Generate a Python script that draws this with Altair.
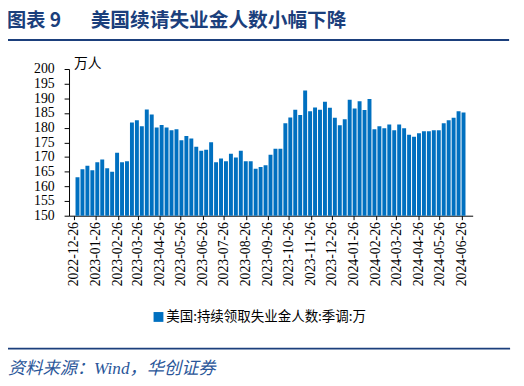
import altair as alt
import pandas as pd

# ---- data ----
start_week = "2022-12-31"
n_weeks = 79
claims = [
    163.1, 165.8, 167.0, 165.5, 168.2, 169.2, 166.2, 165.0, 171.5, 168.2,
    168.6, 181.8, 182.5, 180.5, 186.2, 184.5, 180.1, 180.9, 180.1, 179.1,
    179.5, 175.7, 177.2, 176.3, 173.5, 172.1, 172.5, 175.0, 168.2, 169.5,
    168.6, 171.1, 169.8, 172.1, 168.6, 168.6, 166.0, 166.6, 167.2, 170.8,
    172.8, 172.8, 181.5, 183.5, 186.1, 184.3, 192.7, 185.6, 186.9, 186.1,
    188.8, 186.8, 183.4, 180.8, 182.9, 189.5, 186.5, 189.0, 186.0, 189.8,
    179.5, 180.5, 179.8, 181.1, 179.1, 181.1, 179.8, 177.6, 176.9, 178.1,
    178.8, 178.8, 179.1, 179.1, 181.5, 182.5, 183.4, 185.6, 185.2,
]
x_tick_dates = [
    "2022-12-26", "2023-01-26", "2023-02-26", "2023-03-26", "2023-04-26",
    "2023-05-26", "2023-06-26", "2023-07-26", "2023-08-26", "2023-09-26",
    "2023-10-26", "2023-11-26", "2023-12-26", "2024-01-26", "2024-02-26",
    "2024-03-26", "2024-04-26", "2024-05-26", "2024-06-26",
]
x_domain = ["2022-12-26", "2024-07-05"]
y_ticks = [150, 155, 160, 165, 170, 175, 180, 185, 190, 195, 200]
series_name = "美国:持续领取失业金人数:季调:万"
title_prefix = "图表 9"
title_text = "美国续请失业金人数小幅下降"
unit_text = "万人"
source_text = "资料来源：Wind，华创证券"

weeks = pd.date_range(start_week, periods=n_weeks, freq="7D").strftime("%Y-%m-%d")
df = pd.DataFrame({"date": list(weeks), "value": claims, "series": series_name})


def dt(d):
    t = pd.Timestamp(d)
    return alt.DateTime(year=t.year, month=t.month, date=t.day, utc=True)


W, H = 410, 149
PAD = {"left": 62, "top": 59, "right": 516 - 62 - W, "bottom": 378 - 59 - H}
NAVY = "#1B3F7C"
SERIF = "Liberation Serif"
CJK = "Noto Sans CJK SC"

bars = alt.Chart(df).mark_bar(size=4, clip=True).encode(
    x=alt.X(
        "date:T",
        scale=alt.Scale(type="utc", domain=[dt(d) for d in x_domain]),
        axis=alt.Axis(
            title=None,
            values=[dt(d) for d in x_tick_dates],
            format="%Y-%m-%d",
            labelAngle=270,
            labelFont=SERIF,
            labelFontSize=14,
            labelColor="black",
            labelPadding=2,
            tickSize=4,
            tickColor="black",
            domainColor="black",
            grid=False,
            labelOverlap=False,
        ),
    ),
    y=alt.Y(
        "value:Q",
        scale=alt.Scale(domain=[150, 200], nice=False, zero=False),
        axis=alt.Axis(
            title=None,
            values=y_ticks,
            labelFont=SERIF,
            labelFontSize=14,
            labelColor="black",
            labelPadding=10,
            tickSize=5,
            tickColor="black",
            domainColor="black",
            grid=False,
        ),
    ),
    color=alt.Color(
        "series:N",
        scale=alt.Scale(range=["#0070C0"]),
        legend=alt.Legend(
            title=None,
            orient="none",
            legendX=84,
            legendY=245,
            direction="horizontal",
            symbolType="square",
            symbolSize=100,
            symbolStrokeWidth=0,
            labelFont=CJK,
            labelFontSize=13.7,
            labelColor="black",
            labelOffset=1,
            labelLimit=400,
            padding=0,
        ),
    ),
)


def text_layer(txt, x, y, size, color="black", weight="normal", font=CJK,
               style="normal", baseline="middle"):
    return alt.Chart(pd.DataFrame({"t": [txt]})).mark_text(
        align="left", baseline=baseline, fontSize=size, color=color,
        fontWeight=weight, font=font, fontStyle=style,
    ).encode(text="t:N", x=alt.value(x), y=alt.value(y))


def rule_layer(x1, x2, y, width, color=NAVY):
    return alt.Chart(pd.DataFrame({"a": [0]})).mark_rule(
        color=color, strokeWidth=width
    ).encode(x=alt.value(x1), x2=alt.value(x2), y=alt.value(y))


title1 = text_layer(title_prefix, -63, -49, 19.5, NAVY, "bold")
title2 = text_layer(title_text, 22, -49, 20, NAVY, "bold")
top_rule = rule_layer(-65, 447, -29.5, 2)
unit = text_layer(unit_text, 5, -5.5, 14)
bottom_rule = rule_layer(-65, 448, 284, 2)
source = text_layer(source_text, -62, 305, 17.5, "#2A5699", "normal",
                    SERIF + ", " + CJK, "italic")

chart = alt.layer(
    bars, title1, title2, top_rule, unit, bottom_rule, source
).properties(
    width=W, height=H, padding=PAD,
    autosize=alt.AutoSizeParams(type="none"),
    background="white",
).configure_view(strokeWidth=0)

chart.save("out.html", embed_options={"renderer": "svg", "actions": False})
